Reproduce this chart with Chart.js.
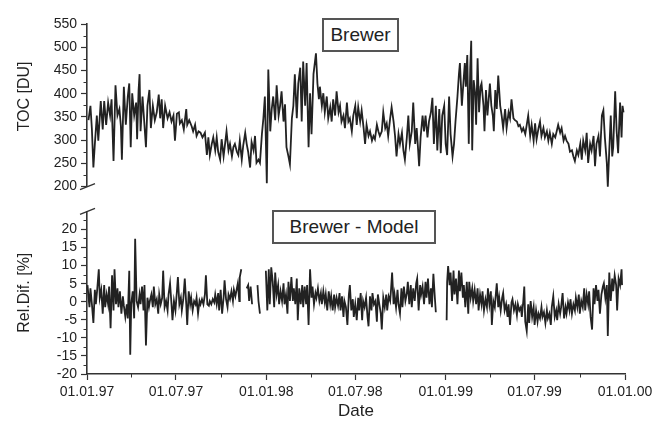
<!DOCTYPE html>
<html>
<head>
<meta charset="utf-8">
<title>Brewer TOC</title>
<script src="https://cdn.jsdelivr.net/npm/chart.js@4.4.1/dist/chart.umd.min.js"></script>
<style>
  html, body { margin: 0; padding: 0; background: #fff; }
  #wrap { position: relative; width: 666px; height: 429px; overflow: hidden; }
  #top { position: absolute; left: 0; top: 0; }
  #bottom { position: absolute; left: 0; top: 199px; }
  .tag {
    position: absolute; box-sizing: border-box; border: 2px solid #555; background: #fff;
    font: 19px "Liberation Sans", Arial, sans-serif; color: #222; text-align: center; line-height: 30px;
  }
</style>
</head>
<body>
<div id="wrap">
  <canvas id="top" width="666" height="199"></canvas>
  <canvas id="bottom" width="666" height="230"></canvas>
  <div class="tag" style="left:322px; top:18px; width:77px; height:34px;">Brewer</div>
  <div class="tag" style="left:272px; top:210px; width:164px; height:34px;">Brewer - Model</div>
</div>
<script>
// ============================================================
// DATA  (x = days since 01.01.97)
// ============================================================

const tickDays = [0, 181, 365, 546, 730, 911, 1095];
const tickLabels = ['01.01.97', '01.07.97', '01.01.98', '01.07.98', '01.01.99', '01.07.99', '01.01.00'];
const minorDays = [90, 273, 455, 638, 820, 1003];

const tocTicks = [200, 250, 300, 350, 400, 450, 500, 550];
const tocMinor = [225, 275, 325, 375, 425, 475, 525];
const diffTicks = [-20, -15, -10, -5, 0, 5, 10, 15, 20];
const diffMinor = [-17.5, -12.5, -7.5, -2.5, 2.5, 7.5, 12.5, 17.5, 22.5];

const tocDays = [
  3, 7, 10, 13, 16, 20, 23, 28, 32, 35,
  39, 43, 47, 50, 54, 58, 62, 66, 69, 71,
  75, 79, 83, 86, 89, 92, 96, 100, 102, 105,
  107, 109, 113, 116, 120, 123, 127, 130, 134, 138,
  142, 146, 149, 152, 155, 159, 164, 168, 172, 176,
  179, 183, 187, 189, 193, 197, 202, 204, 208, 213,
  216, 220, 223, 227, 231, 235, 240, 244, 247, 250,
  254, 257, 261, 264, 267, 271, 274, 278, 281, 284,
  288, 291, 295, 298, 301, 305, 308, 311, 315, 318,
  322, 325, 328, 332, 335, 339, 342, 345, 349, 352,
  356, 359, 362, 366, 369, 373, 376, 379, 383, 386,
  390, 393, 396, 400, 403, 406, 410, 413, 417, 420,
  423, 427, 430, 434, 437, 440, 444, 447, 451, 454,
  457, 461, 464, 466, 469, 472, 474, 478, 481, 484,
  488, 491, 495, 498, 501, 505, 508, 512, 515, 518,
  522, 525, 529, 532, 535, 539, 542, 546, 549, 552,
  556, 559, 563, 566, 569, 573, 576, 580, 583, 586,
  590, 593, 596, 600, 603, 607, 610, 613, 617, 620,
  624, 627, 630, 634, 637, 641, 644, 647, 651, 654,
  657, 661, 664, 668, 671, 674, 676, 679, 683, 686,
  689, 693, 696, 700, 703, 706, 710, 713, 717, 720,
  723, 727, 730, 733, 737, 740, 744, 747, 750, 754,
  757, 759, 763, 766, 769, 771, 774, 777, 780, 782,
  784, 787, 790, 792, 795, 798, 801, 803, 807, 809,
  812, 815, 818, 820, 823, 826, 828, 831, 834, 837,
  841, 844, 847, 851, 854, 858, 861, 864, 868, 871,
  875, 878, 881, 885, 888, 892, 895, 898, 902, 905,
  909, 912, 915, 919, 922, 925, 929, 932, 936, 939,
  942, 946, 949, 953, 956, 959, 963, 966, 970, 973,
  976, 980, 983, 987, 990, 993, 997, 1000, 1004, 1007,
  1010, 1014, 1017, 1020, 1024, 1027, 1031, 1034, 1037, 1041,
  1044, 1048, 1051, 1054, 1058, 1060, 1063, 1066, 1069, 1071,
  1075, 1078, 1081, 1085, 1088, 1090, 1092
];
const tocValues = [
  343, 374, 323, 241, 292, 353, 299, 384, 323, 384,
  333, 381, 353, 388, 255, 418, 353, 367, 330, 258,
  415, 333, 394, 422, 285, 401, 353, 381, 302, 408,
  442, 319, 394, 347, 285, 374, 408, 326, 374, 343,
  360, 398, 347, 388, 326, 374, 347, 360, 340, 353,
  299, 357, 360, 336, 343, 323, 367, 333, 343, 330,
  319, 333, 309, 319, 316, 306, 316, 268, 306, 268,
  292, 306, 278, 306, 275, 258, 302, 265, 292, 319,
  278, 292, 265, 285, 292, 275, 268, 299, 258, 289,
  316, 292, 275, 241, 296, 278, 309, 251, 258, 251,
  313, 347, 394, 207, 452, 319, 367, 394, 343, 418,
  353, 374, 405, 340, 377, 285, 265, 248, 347, 374,
  442, 347, 422, 456, 340, 469, 374, 466, 285, 401,
  313, 442, 469, 487, 422, 388, 415, 374, 401, 360,
  394, 347, 371, 340, 388, 353, 405, 360, 374, 340,
  353, 326, 381, 340, 347, 319, 353, 374, 333, 371,
  340, 364, 326, 292, 333, 309, 319, 299, 309, 302,
  333, 319, 309, 319, 360, 326, 336, 309, 347, 371,
  340, 309, 265, 313, 292, 316, 278, 258, 306, 353,
  292, 319, 381, 292, 326, 278, 244, 306, 353, 319,
  353, 306, 340, 360, 391, 292, 374, 278, 367, 272,
  353, 374, 292, 268, 394, 313, 265, 292, 340, 394,
  442, 466, 374, 422, 466, 415, 483, 292, 456, 514,
  278, 429, 401, 333, 476, 360, 415, 422, 374, 319,
  408, 353, 394, 422, 374, 353, 319, 408, 367, 439,
  374, 353, 326, 367, 326, 360, 347, 388, 347, 343,
  340, 330, 333, 319, 326, 313, 333, 353, 309, 333,
  299, 336, 302, 326, 340, 309, 326, 306, 319, 299,
  316, 292, 313, 306, 319, 333, 316, 326, 299, 309,
  299, 292, 275, 278, 265, 255, 278, 268, 292, 258,
  299, 278, 316, 251, 292, 278, 309, 244, 292, 309,
  265, 353, 364, 306, 251, 200, 278, 353, 265, 285,
  405, 319, 272, 381, 306, 374, 360
];

const diffDays = [
  1, 5, 7, 10, 13, 16, 18, 21, 24, 26,
  29, 32, 35, 37, 40, 43, 45, 48, 51, 54,
  56, 59, 62, 64, 67, 70, 73, 75, 78, 81,
  83, 86, 88, 90, 93, 96, 98, 101, 104, 107,
  109, 112, 115, 117, 120, 123, 126, 128, 131, 134,
  136, 139, 142, 145, 147, 150, 153, 155, 158, 161,
  164, 166, 169, 172, 174, 177, 180, 183, 185, 188,
  191, 193, 196, 199, 202, 204, 207, 210, 212, 215,
  218, 221, 223, 226, 229, 231, 234, 237, 240, 242,
  245, 248, 250, 253, 256, 259, 261, 264, 267, 269,
  272, 275, 278, 280, 283, 286, 288, 291, 294, 297,
  299, 302, 305, 307, 310, 311, 314, 318, 325, 328,
  330, 333, 336, 339, 347, 349, 352, 355, 364, 367,
  370, 372, 375, 378, 381, 383, 386, 389, 391, 394,
  397, 400, 402, 405, 408, 410, 413, 416, 419, 421,
  424, 427, 429, 432, 435, 438, 440, 443, 446, 448,
  451, 454, 457, 459, 462, 465, 467, 470, 473, 476,
  478, 481, 484, 486, 489, 492, 495, 497, 500, 503,
  505, 508, 511, 514, 516, 519, 522, 524, 527, 530,
  533, 535, 538, 541, 543, 546, 549, 552, 554, 557,
  560, 562, 565, 568, 571, 573, 576, 579, 581, 584,
  587, 590, 592, 595, 598, 600, 603, 606, 609, 611,
  614, 617, 619, 621, 624, 626, 629, 632, 634, 637,
  640, 642, 645, 648, 651, 653, 656, 659, 661, 664,
  667, 670, 672, 675, 678, 680, 683, 686, 689, 691,
  694, 697, 700, 702, 705, 708, 710, 720, 732, 733,
  735, 738, 740, 743, 746, 748, 751, 754, 757, 759,
  762, 765, 767, 770, 773, 776, 778, 781, 784, 786,
  789, 792, 795, 797, 800, 803, 805, 808, 811, 814,
  816, 819, 822, 824, 827, 830, 832, 834, 837, 839,
  842, 845, 847, 850, 853, 856, 858, 861, 864, 866,
  869, 872, 875, 877, 880, 883, 885, 888, 890, 892,
  895, 898, 900, 903, 906, 909, 911, 914, 917, 919,
  922, 925, 927, 930, 933, 936, 938, 941, 944, 946,
  949, 952, 955, 957, 960, 963, 965, 968, 971, 974,
  976, 979, 982, 984, 987, 990, 993, 995, 998, 1001,
  1003, 1006, 1009, 1012, 1014, 1017, 1020, 1022, 1025, 1028,
  1031, 1033, 1036, 1039, 1041, 1044, 1047, 1050, 1052, 1055,
  1058, 1060, 1063, 1066, 1069, 1071, 1074, 1077, 1079, 1082,
  1085, 1088, 1089
];
const diffValues = [
  4.6, -1.5, 3.7, -0.7, -5.9, 3.3, -0.7, 3.7, 9.0, 1.1,
  3.3, -3.3, 4.6, -1.5, 2.0, -0.7, 4.2, -7.3, 7.3, -2.4,
  9.0, -0.7, 3.7, -1.5, 2.9, -3.3, 1.5, -1.1, -4.2, -0.7,
  -4.6, 8.6, -14.7, -0.7, 2.9, -4.6, 17.4, 0.2, -1.5, 2.0,
  -0.7, 4.2, -2.4, 4.6, -12.1, 1.1, -1.5, 0.2, 2.0, -1.5,
  4.2, -0.7, 0.7, -3.3, 2.0, -0.7, 1.1, 8.6, -1.5, 0.2,
  -2.4, 2.0, 5.1, -0.7, -5.1, 0.2, -2.4, 2.9, 6.8, -0.7,
  1.1, -2.4, 0.7, 6.4, -0.7, -6.4, 2.9, -0.7, 1.1, -2.4,
  0.2, -0.7, 1.1, -3.3, 0.2, -0.7, 0.7, -0.7, 2.0, 7.3,
  -0.7, -1.1, 0.2, -0.7, 0.7, -0.2, 2.0, -0.7, 2.4, -2.4,
  3.3, -3.3, 1.1, 5.9, 0.7, -1.5, 2.0, 0.7, 2.9, 0.2,
  3.3, 1.5, 3.7, 5.1, 0.2, 6.8, 9.0, null, 3.7, 4.6,
  0.2, 4.2, -0.7, null, 4.6, 0.2, -3.3, null, 8.6, -2.4,
  9.0, -0.7, 9.5, 5.5, -1.5, 8.1, 2.0, 4.6, -0.7, 2.9,
  0.2, 5.1, -0.7, 2.0, -3.3, 5.5, 0.2, 6.8, 0.2, 3.7,
  -0.7, 6.4, -5.1, 3.7, -0.7, 4.6, -1.5, 4.2, -0.7, 4.6,
  -6.4, 9.0, 1.1, 4.2, -0.7, 2.4, 1.1, 3.7, 0.2, 2.4,
  -0.7, 2.9, -0.2, 2.0, -2.4, 2.9, -0.7, 1.5, -2.4, 2.0,
  -1.5, 1.1, -1.1, 2.4, -2.4, 1.5, -4.2, 0.2, -1.5, -6.4,
  2.0, 4.6, -2.4, 0.7, -4.2, -0.7, -5.1, 1.1, -2.4, 2.4,
  -5.1, 0.2, -1.5, 1.1, -4.2, -6.8, 1.5, -2.4, 2.4, -0.7,
  0.2, -5.5, 2.0, -0.7, -3.3, -7.7, 1.1, -1.5, 2.0, -2.4,
  1.5, 0.2, 3.7, 8.1, -0.7, 2.0, -1.5, 3.3, -0.7, -3.3,
  3.7, -1.5, 4.2, 0.2, 2.4, 5.5, -0.7, 4.6, -1.5, 3.7,
  0.2, 5.1, 6.4, -2.4, 4.6, 2.0, 4.2, -0.7, 5.5, 1.1,
  6.4, -0.7, 3.7, -1.5, 7.7, 1.1, -2.9, null, -5.1, 5.5,
  9.9, 4.6, 8.1, 0.2, 8.6, 2.0, 6.4, -0.7, 8.6, 2.9,
  8.1, 1.1, 4.6, -1.5, 5.5, -3.3, 5.5, 1.1, 3.7, 0.2,
  3.3, -0.7, 3.7, -2.4, 2.0, -0.7, 2.9, -2.4, 0.7, -1.5,
  3.7, -0.7, 2.9, -6.4, 0.2, -1.5, 2.0, 5.1, -1.5, 1.1,
  -2.4, 1.1, 2.4, -2.4, -0.7, -4.2, -0.7, -6.4, -0.2, 0.7,
  -2.4, -0.7, -3.7, -0.7, -2.4, -1.5, -4.2, 0.2, 4.2, -5.5,
  -8.1, -0.7, -5.9, 0.2, -4.2, -1.5, -6.4, -2.4, -5.5, -3.3,
  -4.6, -1.5, -4.2, -2.9, -5.9, -2.4, -4.6, -3.3, -6.4, -1.5,
  1.5, -4.2, -2.4, -5.1, -0.7, -3.3, -1.5, 2.4, -4.6, -1.5,
  -3.3, -0.2, -2.4, 0.7, -3.3, -0.7, -2.4, 1.1, -1.5, 2.0,
  -3.3, 0.2, -1.5, 3.7, -2.4, 2.0, -0.7, 2.9, -4.2, -7.7,
  3.7, -0.7, 4.6, 0.2, 3.3, -3.3, 2.0, 4.2, 5.1, 1.1,
  4.6, -9.5, 8.1, 0.2, 6.4, 2.9, 7.3, 4.6, -2.4, 6.4,
  4.6, 9.0, 4.6
];

// ============================================================
// STYLE
// ============================================================

const FONT = '"Liberation Sans", Arial, sans-serif';
const INK = '#222';
const AXIS = '#333';
const LEFT_PAD = 15;
const AXIS_LEFT = 87;

Chart.defaults.font.family = FONT;
Chart.defaults.color = INK;

// short minor ticks, drawn outward like the major ones
const minorTicks = {
  id: 'minorTicks',
  afterDraw(chart, args, opts) {
    const ctx = chart.ctx;
    ctx.save();
    ctx.strokeStyle = AXIS;
    ctx.lineWidth = 1;
    (opts.sets || []).forEach(set => {
      const scale = chart.scales[set.scale];
      set.values.forEach(v => {
        const p = Math.round(scale.getPixelForValue(v)) + 0.5;
        ctx.beginPath();
        if (scale.isHorizontal()) {
          ctx.moveTo(p, scale.top);
          ctx.lineTo(p, scale.top + 3.5);
        } else {
          ctx.moveTo(scale.right, p);
          ctx.lineTo(scale.right - 3.5, p);
        }
        ctx.stroke();
      });
    });
    ctx.restore();
  }
};

// axis break mark (two slanted strokes)
const axisBreak = {
  id: 'axisBreak',
  afterDraw(chart, args, opts) {
    if (!opts.scale) return;
    const scale = chart.scales[opts.scale];
    const x = scale.right;
    const y = scale.getPixelForValue(opts.value);
    const ctx = chart.ctx;
    ctx.save();
    ctx.strokeStyle = AXIS;
    ctx.lineWidth = 1.3;
    ctx.beginPath();
    ctx.moveTo(x - 7, y + 3);
    ctx.lineTo(x + 8, y - 3);
    ctx.stroke();
    ctx.restore();
  }
};

function xScale(show) {
  return {
    type: 'linear',
    min: 0,
    max: 1095,
    display: show,
    afterBuildTicks: s => { s.ticks = tickDays.map(v => ({ value: v })); },
    afterFit: s => { if (show) s.height = 55; },
    ticks: {
      color: INK,
      font: { size: 14 },
      padding: 4,
      maxRotation: 0,
      autoSkip: false,
      callback: v => tickLabels[tickDays.indexOf(v)]
    },
    grid: { drawOnChartArea: false, tickLength: 6, tickColor: AXIS, tickWidth: 1.2 },
    border: { color: AXIS, width: 1.6 },
    title: { display: show, text: 'Date', color: INK, font: { size: 17 }, padding: { top: 0, bottom: 7 } }
  };
}

function yScale(lo, hi, ticks, label) {
  return {
    min: lo,
    max: hi,
    afterBuildTicks: s => { s.ticks = ticks.map(v => ({ value: v })); },
    afterFit: s => { s.width = AXIS_LEFT - LEFT_PAD; },
    ticks: { color: INK, font: { size: 14 }, padding: 4 },
    grid: { drawOnChartArea: false, tickLength: 6, tickColor: AXIS, tickWidth: 1.2 },
    border: { color: AXIS, width: 1.6 },
    title: { display: true, text: label, color: INK, font: { size: 16 }, padding: 0 }
  };
}

function lineData(days, values) {
  return days.map((d, i) => ({ x: d, y: values[i] }));
}

const lineStyle = {
  borderColor: '#222',
  borderWidth: 1.8,
  pointRadius: 0,
  tension: 0,
  spanGaps: false,
  clip: false
};

// ============================================================
// TOP PANEL - Brewer TOC
// ============================================================

new Chart(document.getElementById('top').getContext('2d'), {
  type: 'line',
  data: { datasets: [Object.assign({ label: 'Brewer', data: lineData(tocDays, tocValues) }, lineStyle)] },
  options: {
    responsive: false,
    animation: false,
    layout: { padding: { left: LEFT_PAD, right: 41, top: 24, bottom: 4 } },
    plugins: {
      legend: { display: false },
      tooltip: { enabled: false },
      minorTicks: { sets: [{ scale: 'y', values: tocMinor }] },
      axisBreak: { scale: 'y', value: 200 }
    },
    // leading spaces lift the rotated title a little, as in the original layout
    scales: { x: xScale(false), y: yScale(200, 550, tocTicks, '    TOC [DU]') }
  },
  plugins: [minorTicks, axisBreak]
});

// ============================================================
// BOTTOM PANEL - Brewer - Model
// ============================================================

new Chart(document.getElementById('bottom').getContext('2d'), {
  type: 'line',
  data: { datasets: [Object.assign({ label: 'Brewer - Model', data: lineData(diffDays, diffValues) }, lineStyle)] },
  options: {
    responsive: false,
    animation: false,
    layout: { padding: { left: LEFT_PAD, right: 41, top: 4, bottom: 0 } },
    plugins: {
      legend: { display: false },
      tooltip: { enabled: false },
      minorTicks: { sets: [{ scale: 'y', values: diffMinor }, { scale: 'x', values: minorDays }] },
      axisBreak: { scale: 'y', value: 25 }
    },
    scales: { x: xScale(true), y: yScale(-20, 25, diffTicks, 'Rel.Dif. [%]') }
  },
  plugins: [minorTicks, axisBreak]
});
</script>
</body>
</html>
